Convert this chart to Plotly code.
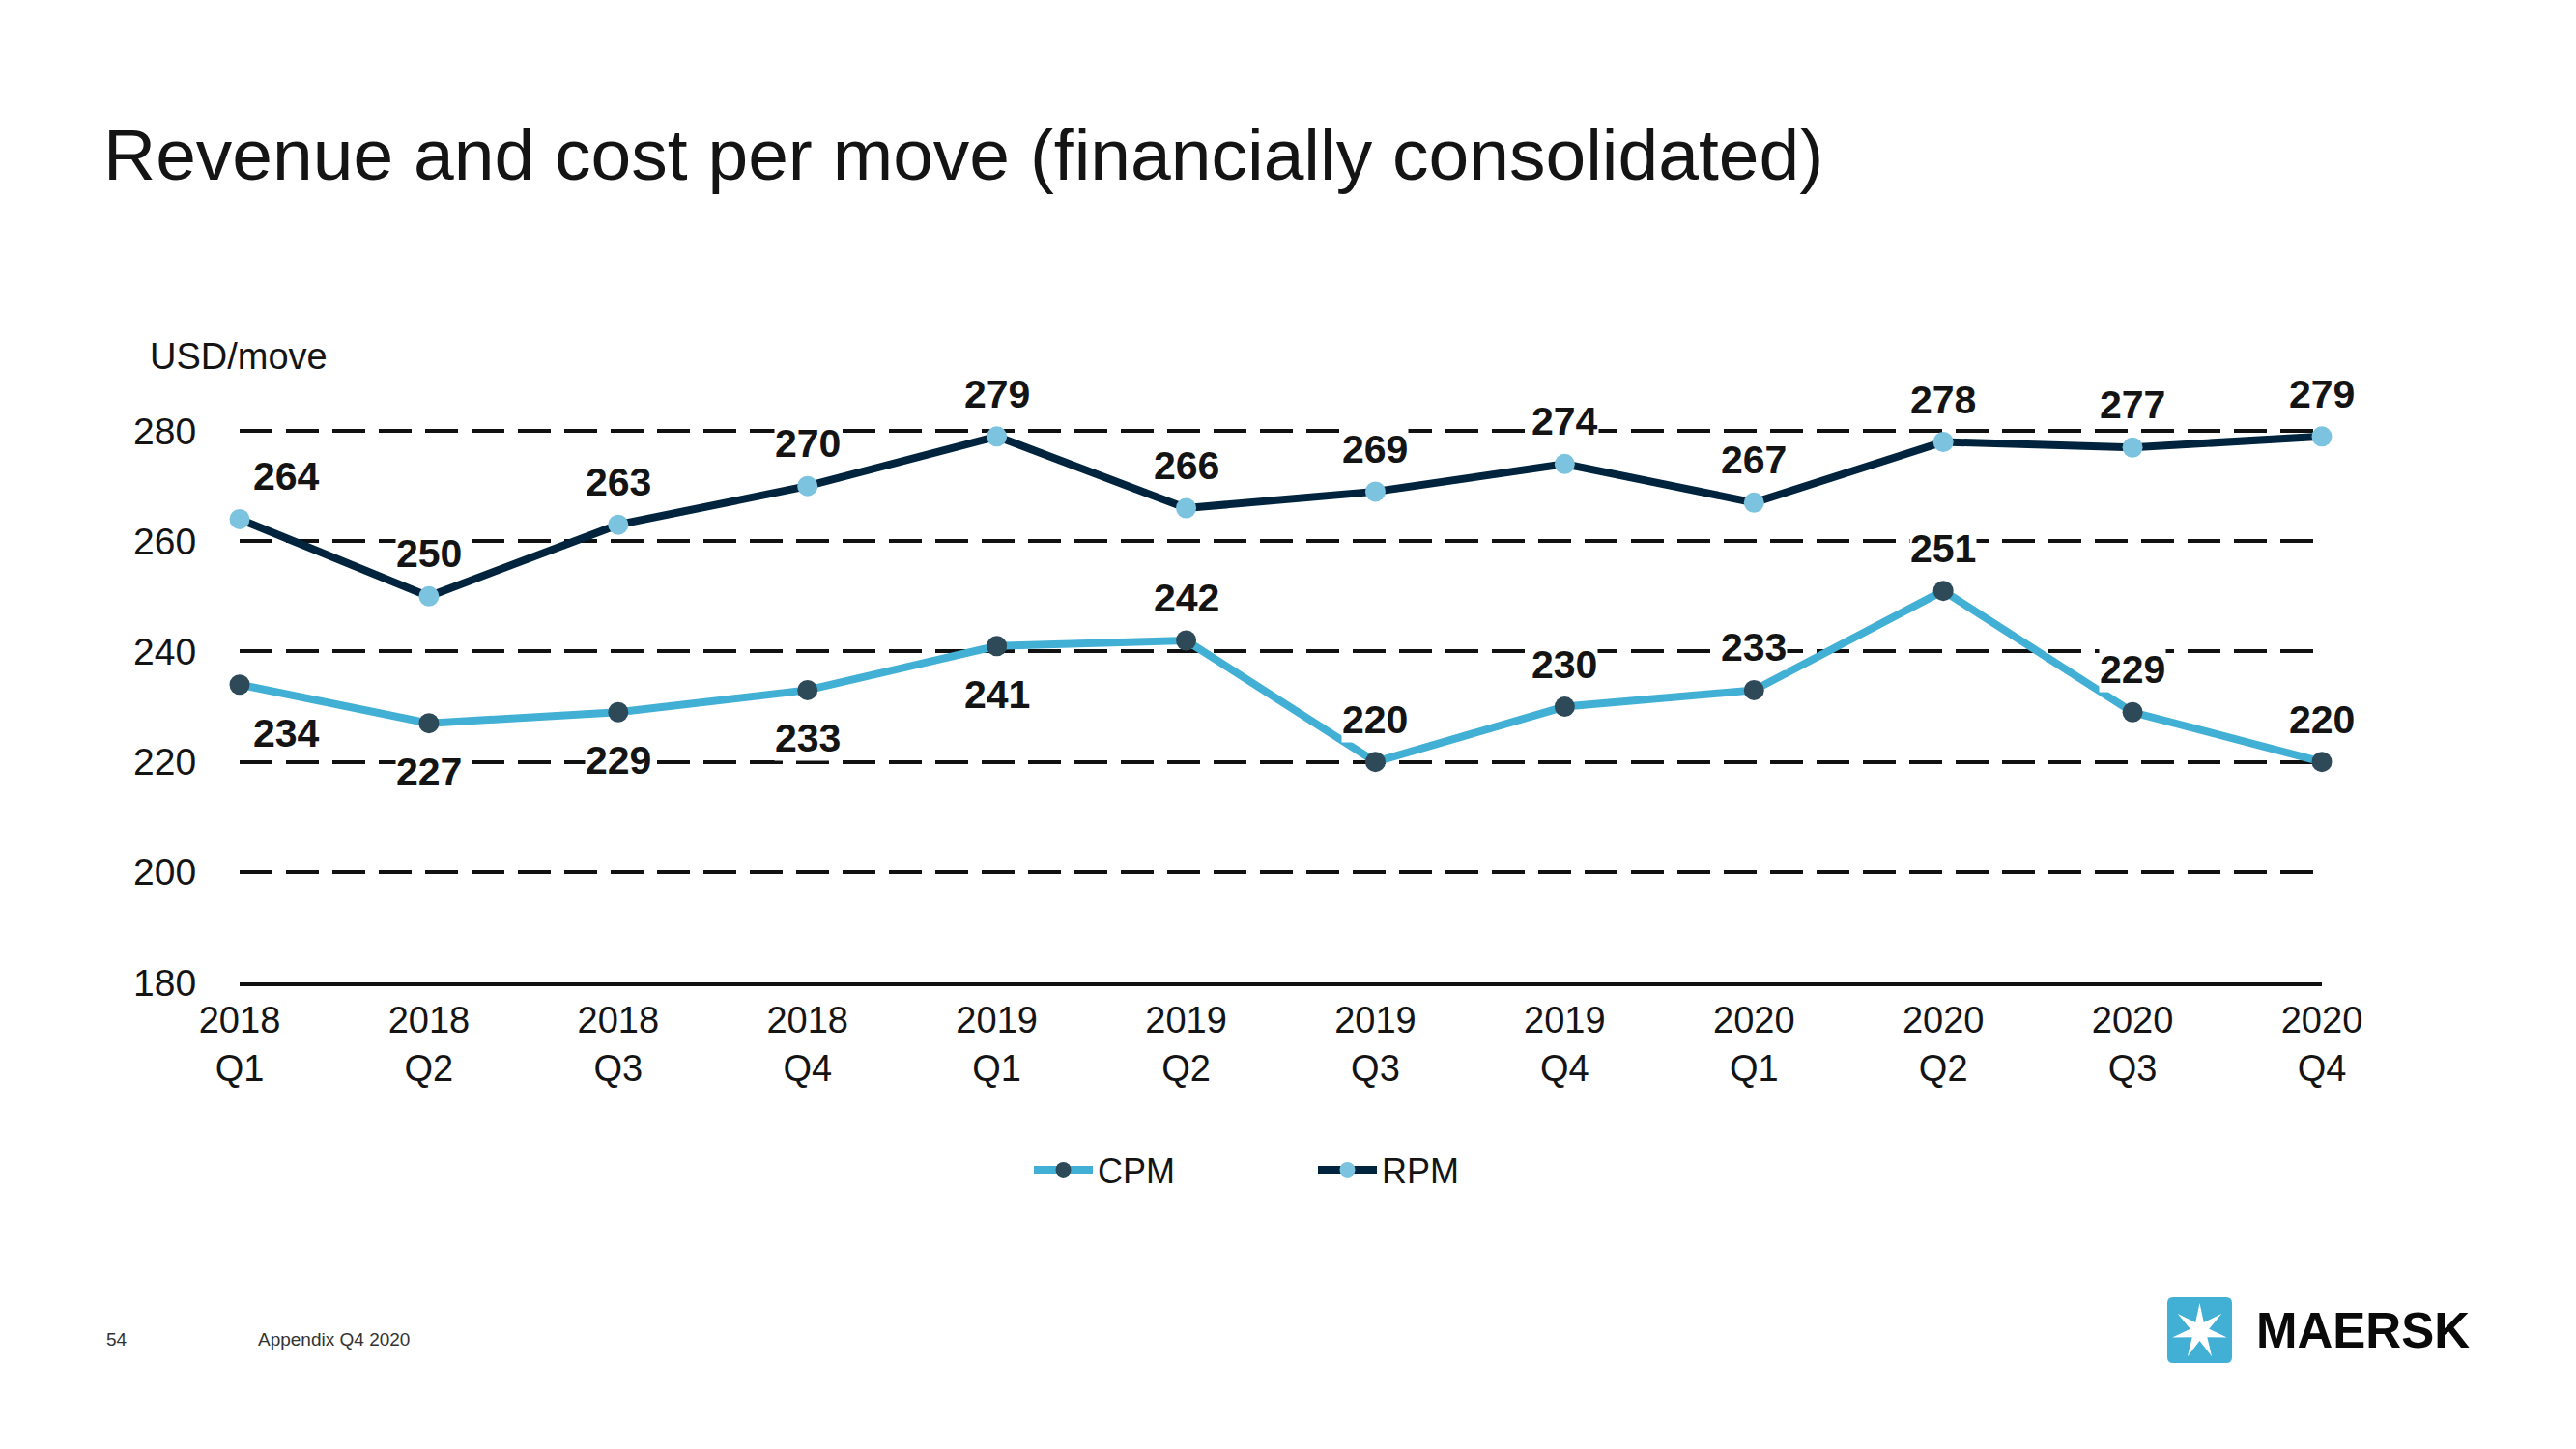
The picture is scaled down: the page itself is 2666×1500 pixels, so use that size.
import math
import plotly.graph_objects as go

# ---------------- data ----------------
quarters = ["2018<br>Q1", "2018<br>Q2", "2018<br>Q3", "2018<br>Q4",
            "2019<br>Q1", "2019<br>Q2", "2019<br>Q3", "2019<br>Q4",
            "2020<br>Q1", "2020<br>Q2", "2020<br>Q3", "2020<br>Q4"]
cpm = [234, 227, 229, 233, 241, 242, 220, 230, 233, 251, 229, 220]
rpm = [264, 250, 263, 270, 279, 266, 269, 274, 267, 278, 277, 279]
y_ticks = [180, 200, 220, 240, 260, 280]

# label placement (style, not data)
cpm_label_side = ["below"] * 5 + ["above"] * 7
rpm_label_side = ["above"] * 12

# ---------------- layout geometry ----------------
# page has an 8px body margin, so the figure is 16px smaller than the window
OFF = 8
W, H = 2666 - 2 * OFF, 1500 - 2 * OFF
PLOT_L, PLOT_R, PLOT_T, PLOT_B = 248, 2403, 389, 1017   # page pixels
L, T = PLOT_L - OFF, PLOT_T - OFF
PW, PH = PLOT_R - PLOT_L, PLOT_B - PLOT_T
R, B = W - L - PW, H - T - PH


def px2x(px):
    return (px - PLOT_L) / PW


def py2y(py):
    return (PLOT_B - py) / PH


FONT = "Liberation Sans, Arial, sans-serif"
TXT = "#141414"
CPM_LINE = "#42B0D5"
CPM_MARK = "#2E4A59"
RPM_LINE = "#00243D"
RPM_MARK = "#7CC3E0"

fig = go.Figure()
fig.add_trace(go.Scatter(
    x=quarters, y=cpm, name="CPM", mode="lines+markers",
    line=dict(color=CPM_LINE, width=8),
    marker=dict(color=CPM_MARK, size=21),
    cliponaxis=False, hoverinfo="x+y"))
fig.add_trace(go.Scatter(
    x=quarters, y=rpm, name="RPM", mode="lines+markers",
    line=dict(color=RPM_LINE, width=8),
    marker=dict(color=RPM_MARK, size=21),
    cliponaxis=False, hoverinfo="x+y"))

annotations = []


def add_labels(values, sides):
    for i, (q, v) in enumerate(zip(quarters, values)):
        above = sides[i] == "above"
        annotations.append(dict(
            x=q, y=v, xref="x", yref="y", text=str(v), showarrow=False,
            font=dict(family=FONT, size=41, color=TXT, weight="bold"),
            bgcolor="white", borderpad=0,
            xanchor="center", yanchor="middle",
            yshift=44 if above else -50,
            xshift=48 if i == 0 else 0))


add_labels(cpm, cpm_label_side)
add_labels(rpm, rpm_label_side)

# axis unit
annotations.append(dict(
    x=px2x(153), y=py2y(369), xref="paper", yref="paper", text="USD/move",
    showarrow=False, xanchor="left", yanchor="middle",
    font=dict(family=FONT, size=38, color=TXT)))
# title
annotations.append(dict(
    x=px2x(105), y=py2y(160), xref="paper", yref="paper",
    text="Revenue and cost per move (financially consolidated)",
    showarrow=False, xanchor="left", yanchor="middle",
    font=dict(family=FONT, size=75, color=TXT)))
# footer
annotations.append(dict(
    x=px2x(108), y=py2y(1386), xref="paper", yref="paper", text="54",
    showarrow=False, xanchor="left", yanchor="middle",
    font=dict(family=FONT, size=19, color="#333333")))
annotations.append(dict(
    x=px2x(265), y=py2y(1386), xref="paper", yref="paper",
    text="Appendix Q4 2020",
    showarrow=False, xanchor="left", yanchor="middle",
    font=dict(family=FONT, size=19, color="#333333")))
# logo text
annotations.append(dict(
    x=px2x(2333), y=py2y(1377), xref="paper", yref="paper", text="MAERSK",
    showarrow=False, xanchor="left", yanchor="middle",
    font=dict(family=FONT, size=51, color="#0a0a0a", weight="bold")))

# logo square (rounded) and seven-pointed star
x0, x1, y0, y1, r = 2243, 2310, 1343, 1411, 6
sq = (f"M {px2x(x0 + r)},{py2y(y0)} L {px2x(x1 - r)},{py2y(y0)} "
      f"Q {px2x(x1)},{py2y(y0)} {px2x(x1)},{py2y(y0 + r)} "
      f"L {px2x(x1)},{py2y(y1 - r)} Q {px2x(x1)},{py2y(y1)} {px2x(x1 - r)},{py2y(y1)} "
      f"L {px2x(x0 + r)},{py2y(y1)} Q {px2x(x0)},{py2y(y1)} {px2x(x0)},{py2y(y1 - r)} "
      f"L {px2x(x0)},{py2y(y0 + r)} Q {px2x(x0)},{py2y(y0)} {px2x(x0 + r)},{py2y(y0)} Z")
cx, cy, ro, ri = (x0 + x1) / 2, (y0 + y1) / 2 + 1, 29, 10
pts = []
for k in range(14):
    ang = -math.pi / 2 + k * math.pi / 7
    rad = ro if k % 2 == 0 else ri
    pts.append((cx + rad * math.cos(ang), cy + rad * math.sin(ang)))
star = "M " + " L ".join(f"{px2x(a)},{py2y(b)}" for a, b in pts) + " Z"
shapes = [
    dict(type="path", path=sq, xref="paper", yref="paper",
         fillcolor="#42B0D5", line=dict(width=0)),
    dict(type="path", path=star, xref="paper", yref="paper",
         fillcolor="white", line=dict(width=0)),
]

fig.update_layout(
    width=W, height=H,
    margin=dict(l=L, r=R, t=T, b=B, pad=0),
    paper_bgcolor="white", plot_bgcolor="white",
    font=dict(family=FONT, color=TXT),
    showlegend=True,
    legend=dict(orientation="h", x=px2x(1065), y=py2y(1211),
                xanchor="left", yanchor="middle",
                font=dict(family=FONT, size=36, color=TXT),
                itemwidth=61,
                entrywidth=218, entrywidthmode="pixels",
                bgcolor="rgba(0,0,0,0)"),
    annotations=annotations,
    shapes=shapes,
)
fig.update_xaxes(
    type="category", range=[0, len(quarters) - 1],
    showgrid=False, zeroline=False,
    showline=True, linecolor="#111111", linewidth=3.5,
    ticks="outside", ticklen=3, tickcolor="rgba(0,0,0,0)",
    tickfont=dict(family=FONT, size=38, color=TXT))
fig.update_yaxes(
    range=[180, 290], tickvals=y_ticks,
    showgrid=True, gridcolor="#111111", gridwidth=3.5, griddash="34px,14px",
    zeroline=False, showline=False,
    ticks="outside", ticklen=36, tickcolor="rgba(0,0,0,0)",
    tickfont=dict(family=FONT, size=39, color=TXT))

fig.write_html("out.html")
